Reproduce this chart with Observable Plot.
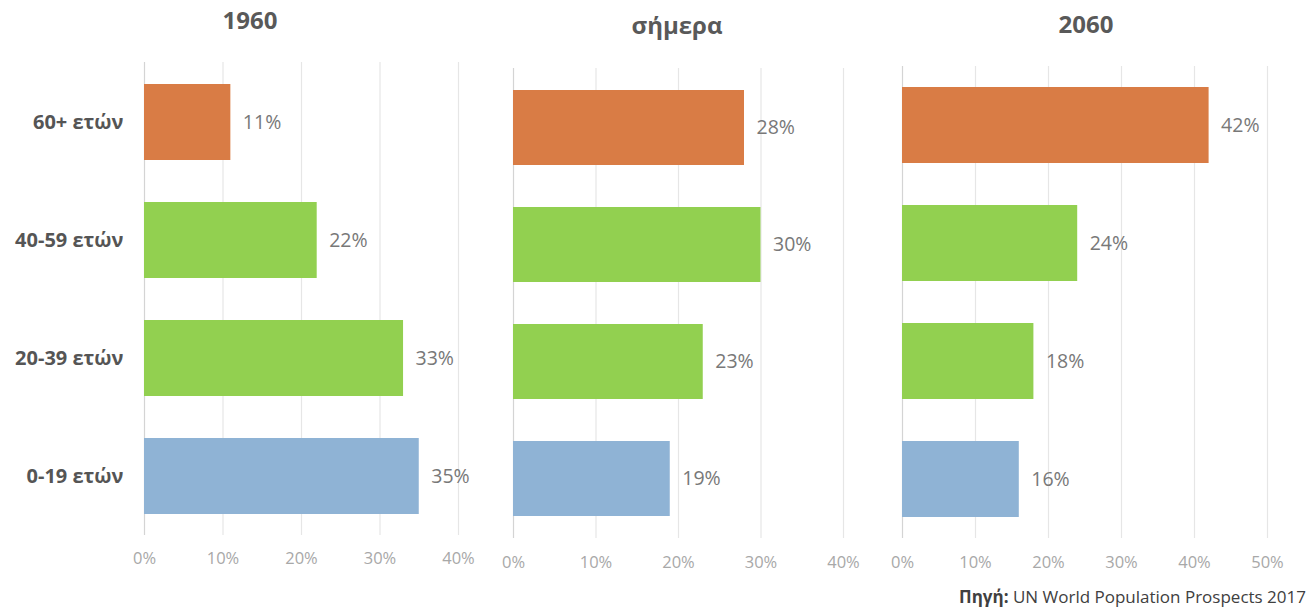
<!DOCTYPE html>
<html>
<head>
<meta charset="utf-8">
<script src="https://cdn.jsdelivr.net/npm/d3@7"></script>
<script src="https://cdn.jsdelivr.net/npm/@observablehq/plot@0.6"></script>
<style>
  html, body { margin: 0; padding: 0; background: #fff; }
  #root { position: relative; width: 1306px; height: 613px; overflow: hidden; font-family: "Open Sans", sans-serif; }
  .panel { position: absolute; top: 0; }
  .title { position: absolute; font-weight: bold; font-size: 24px; line-height: 1; color: #595959; transform: translateX(-50%); white-space: nowrap; }
  .source { position: absolute; right: 0; top: 588px; font-size: 17px; line-height: 1; color: #404040; white-space: nowrap; }
</style>
</head>
<body>
<div id="root"></div>
<script>
// ---- data ----
const ageGroups = ["60+ ετών", "40-59 ετών", "20-39 ετών", "0-19 ετών"];
const periods = ["1960", "σήμερα", "2060"];
const shares1960 = [11, 22, 33, 35];
const sharesToday = [28, 30, 23, 19];
const shares2060 = [42, 24, 18, 16];
const ticks1960 = [0, 10, 20, 30, 40];
const ticksToday = [0, 10, 20, 30, 40];
const ticks2060 = [0, 10, 20, 30, 40, 50];
const sourceLabel = "Πηγή:";
const sourceText = " UN World Population Prospects 2017";

// ---- styling ----
const palette = ["#D97C45", "#92D050", "#92D050", "#8FB3D5"];

const root = document.getElementById("root");

function panel({values, ticks, left, width, mL, mR, mT, mB, showY, tickPad}) {
  const data = ageGroups.map((g, i) => ({group: g, value: values[i]}));
  const marks = [
    Plot.ruleX(ticks.filter(t => t !== 0), {x: d => d, stroke: "#e6e6e6", strokeWidth: 1.2}),
    Plot.ruleX(ticks.filter(t => t === 0), {x: d => d, stroke: "#d4d4d4", strokeWidth: 1.2}),
    Plot.barX(data, {x: "value", y: "group", fill: "group"}),
    Plot.text(data, {x: "value", y: "group", text: d => d.value + "%", dx: 12, textAnchor: "start",
      fill: "#787878", fontSize: 19.5, fontFamily: "Open Sans"})
  ];
  if (showY) {
    marks.push(Plot.text(ageGroups, {y: d => d, frameAnchor: "left", dx: -21, textAnchor: "end",
      fontWeight: "bold", fontSize: 20, fill: "#555555", fontFamily: "Open Sans"}));
  }
  const svg = Plot.plot({
    width, height: 613,
    marginLeft: mL, marginRight: mR, marginTop: mT, marginBottom: mB,
    x: {domain: [0, ticks[ticks.length - 1]], ticks, tickFormat: d => d + "%", tickSize: 0, tickPadding: tickPad, label: null},
    y: {domain: ageGroups, axis: null, paddingInner: 0.36, paddingOuter: 0.18},
    color: {domain: ageGroups, range: palette},
    style: {fontFamily: "Open Sans", fontSize: "16.5px", color: "#a8a8a8", background: "transparent", overflow: "visible"},
    marks
  });
  const div = document.createElement("div");
  div.className = "panel";
  div.style.left = left + "px";
  div.appendChild(svg);
  root.appendChild(div);
}

panel({values: shares1960, ticks: ticks1960, left: 0, width: 480, mL: 144, mR: 22, mT: 62, mB: 78, showY: true, tickPad: 17});
panel({values: sharesToday, ticks: ticksToday, left: 480, width: 400, mL: 33, mR: 37, mT: 68, mB: 75, showY: false, tickPad: 18});
panel({values: shares2060, ticks: ticks2060, left: 880, width: 426, mL: 22, mR: 39, mT: 66, mB: 75, showY: false, tickPad: 18});

const titlePos = [[250, 8], [677, 13], [1086, 12]];
periods.forEach((p, i) => {
  const t = document.createElement("div");
  t.className = "title";
  t.textContent = p;
  t.style.left = titlePos[i][0] + "px";
  t.style.top = titlePos[i][1] + "px";
  root.appendChild(t);
});

const src = document.createElement("div");
src.className = "source";
const b = document.createElement("b");
b.textContent = sourceLabel;
src.appendChild(b);
src.appendChild(document.createTextNode(sourceText));
root.appendChild(src);
</script>
</body>
</html>
